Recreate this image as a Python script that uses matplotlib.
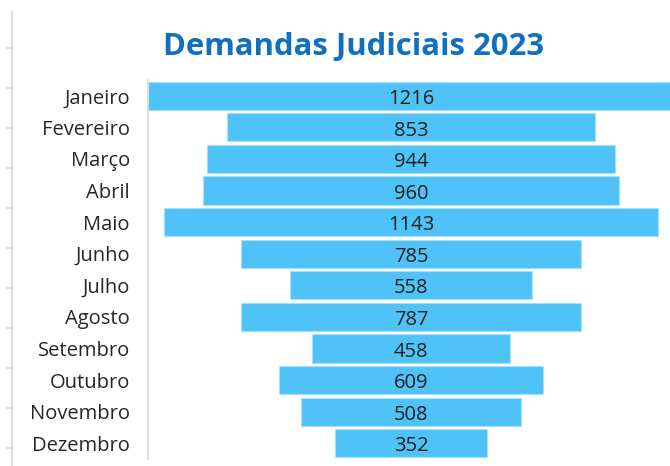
import matplotlib
matplotlib.use("Agg")
import matplotlib.pyplot as plt
from matplotlib.lines import Line2D

# data
meses = ["Janeiro", "Fevereiro", "Março", "Abril", "Maio", "Junho",
         "Julho", "Agosto", "Setembro", "Outubro", "Novembro", "Dezembro"]
demandas = [1216, 853, 944, 960, 1143, 785, 558, 787, 458, 609, 508, 352]

W, H = 670, 466
plt.rcParams['font.family'] = ['Open Sans', 'DejaVu Sans']

fig = plt.figure(figsize=(W / 100, H / 100), dpi=100)

# plot area in pixels: x 148..674 (right side clipped by figure), y 80..459
left, right, top, bottom = 148, 674, 80, 459
ax = fig.add_axes([left / W, 1 - bottom / H, (right - left) / W, (bottom - top) / H])

# funnel: bars centred on zero
lefts = [-v / 2 for v in demandas]
ax.barh(range(len(meses)), demandas, left=lefts, height=0.89,
        color='#4FC3F7', edgecolor='#A8E0FB', linewidth=0.8)

for i, v in enumerate(demandas):
    ax.text(0, i + 0.1, str(v), ha='center', va='center', fontsize=14.5, color='#1f1f1f')

ax.set_xlim(-608, 608)
ax.set_ylim(len(meses) - 0.5, -0.5)
ax.set_yticks(range(len(meses)))
ax.set_yticklabels(meses, fontsize=14.5, color='#262626')
ax.tick_params(axis='y', length=0, pad=13)
ax.set_xticks([])
for s in ['top', 'right', 'bottom']:
    ax.spines[s].set_visible(False)
ax.spines['left'].set_color('#d9d9d9')
ax.spines['left'].set_linewidth(1.2)

fig.text(354 / W, 1 - 55 / H, "Demandas Judiciais 2023", ha='center', va='baseline',
         fontsize=22.4, fontweight='bold', color='#1070C0')

# faint sheet gridline with ticks at the far left
fig.add_artist(Line2D([12 / W, 12 / W], [1 - 12 / H, 0], color='#d9d9d9', lw=1.2))
for ty in range(48, 460, 40):
    fig.add_artist(Line2D([7 / W, 12 / W], [1 - ty / H, 1 - ty / H], color='#d9d9d9', lw=1.2))

fig.savefig("out.png", dpi=100, facecolor='white')
